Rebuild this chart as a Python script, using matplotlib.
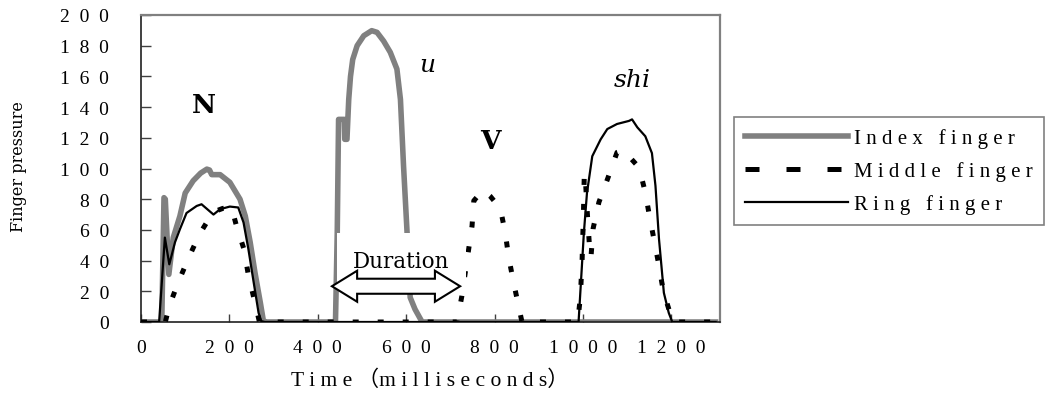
import matplotlib
matplotlib.use("Agg")
import matplotlib.pyplot as plt
from matplotlib.lines import Line2D
from matplotlib.patches import Polygon

plt.rcParams['font.family'] = ['Liberation Serif', 'Noto Sans CJK JP', 'DejaVu Sans']

# ---------------- data (time in ms, finger pressure) ----------------
index_t = [0, 47, 52, 55, 63, 73, 88, 100, 118, 135, 149, 155, 160, 179, 201, 224, 236, 247, 258, 270,
           277, 285, 440, 444, 447, 460, 461, 466, 470, 474, 479, 489, 504, 522, 534, 549, 564, 579, 587, 594, 602,
           609, 620, 636, 1300]
index_v = [0, 0, 81, 80, 31, 55, 69, 84, 92, 97, 99.6, 99, 96, 96, 91, 80, 69, 52, 32, 12.6,
           0.6, 0, 0, 58, 132, 132, 119, 119, 145, 160, 171, 180, 186.5, 189.8, 188.7, 183, 175.7, 164.8, 145, 101.7, 58.3,
           16, 8.3, 0, 0]

middle_t = [0, 55, 64, 84, 107, 132, 163, 185, 205, 216, 233, 243, 256, 268, 715, 726, 749, 753, 774, 790,
            813, 824, 832, 843, 855, 862, 988, 994, 998, 1001, 1003, 1006, 1010, 1015, 1018, 1023, 1036, 1056,
            1077, 1092, 1110, 1127, 1141, 1151, 1162, 1172, 1182, 1198, 1205, 1300]
middle_v = [0, 0, 10.4, 25.7, 41.3, 57, 71.6, 74, 74.5, 62.6, 47.4, 30.4, 14.8, 0, 0, 17, 62.6, 79, 86, 82,
            74, 58.3, 42, 25.7, 9.4, 0, 0, 16, 40, 70, 97, 90, 70, 48, 42, 61, 78, 93.5,
            110.5, 112, 106, 100.6, 84.4, 68, 51.8, 36.5, 19.6, 5, 0, 0]

ring_t = [0, 41, 54, 64, 77, 88, 103, 126, 137, 164, 179, 201, 220, 232, 243, 255, 266, 272, 280,
          990, 1002, 1009, 1021, 1040, 1055, 1077, 1104, 1111, 1123, 1141, 1156, 1164, 1172, 1183, 1194, 1202, 1300]
ring_v = [0, 0, 55, 37.6, 52, 60.4, 71, 75.6, 76.7, 70, 73.5, 75.2, 74.6, 64.8, 47.4, 25.7, 6, 0.6, 0,
          0, 58, 84, 108, 119, 125.7, 129, 131, 132, 126.8, 121, 110, 88.7, 54, 19, 6, 0, 0]

series_names = ["Index finger", "Middle finger", "Ring finger"]
x_ticks = [0, 200, 400, 600, 800, 1000, 1200]
y_ticks = [0, 20, 40, 60, 80, 100, 120, 140, 160, 180, 200]

# syllable labels: (text, x, y)
syllables = [("N", 143, 142), ("u", 649, 168), ("V", 790, 118), ("shi", 1111, 158)]
duration_label = ("Duration", 589, 40)
arrow_x = (432, 722)
arrow_y = 23.3

GRAY = "#808080"

def spaced(s, sep="  "):
    return sep.join(list(s))

fig = plt.figure(figsize=(10.5, 4.02), dpi=100)
ax = fig.add_axes([141/1050, 1-323/402, 579/1050, 307/402])

l_idx, = ax.plot(index_t, index_v, color=GRAY, lw=4.0, solid_joinstyle='round', zorder=2)
l_ring, = ax.plot(ring_t, ring_v, color="black", lw=1.6, zorder=3)
l_mid, = ax.plot(middle_t, middle_v, color="black", lw=3.6, dashes=(1.2, 3.8),
                 dash_capstyle='butt', zorder=4)

ax.set_xlim(0, 1310)
ax.set_ylim(0, 200)
ax.set_xticks(x_ticks)
ax.set_xticklabels([spaced(str(v)) for v in x_ticks])
ax.set_yticks(y_ticks)
ax.set_yticklabels([spaced(str(v)) for v in y_ticks])
ax.tick_params(axis='y', direction='in', length=7, width=1, color="#404040", pad=23, labelsize=14)
ax.tick_params(axis='x', direction='in', length=5.5, width=1, color="#404040", pad=12, labelsize=14)

for side in ("top", "right"):
    ax.spines[side].set_color(GRAY)
    ax.spines[side].set_linewidth(1.6)
for side in ("left", "bottom"):
    ax.spines[side].set_color("#202020")
    ax.spines[side].set_linewidth(1.2)

# syllable annotations
for txt, x, y in syllables:
    if txt in ("N", "V"):
        ax.text(x, y, txt, ha='center', va='center', family='DejaVu Serif', fontsize=19,
                fontweight='bold', zorder=6)
    else:
        ax.text(x, y, txt, ha='center', va='center', family='DejaVu Serif', fontsize=18,
                style='italic', zorder=6)

# duration label (white box hides lines beneath)
ax.text(duration_label[1], duration_label[2], duration_label[0], ha='center', va='center',
        family='DejaVu Serif', fontsize=15.5, zorder=6,
        bbox=dict(boxstyle='square,pad=0.75', fc='white', ec='none'))

# hollow double arrow
x0, x1 = arrow_x
hl, hh, sh = 57, 10.1, 4.9
poly = [(x0, arrow_y), (x0 + hl, arrow_y + hh), (x0 + hl, arrow_y + sh), (x1 - hl, arrow_y + sh),
        (x1 - hl, arrow_y + hh), (x1, arrow_y), (x1 - hl, arrow_y - hh), (x1 - hl, arrow_y - sh),
        (x0 + hl, arrow_y - sh), (x0 + hl, arrow_y - hh)]
ax.add_patch(Polygon(poly, closed=True, fc='white', ec='black', lw=1.5, zorder=7))

# axis titles
fig.text(19/1050, 1-167/402, "Finger pressure", rotation=90, ha='center', va='center',
         family='DejaVu Serif', fontsize=11.5)
fig.text(430/1050, 1-381/402, "T i m e （m i l l i s e c o n d s）", ha='center', va='center',
         fontsize=15.5)

# legend
handles = [Line2D([], [], color=GRAY, lw=4.0),
           Line2D([], [], color="black", lw=3.6, dashes=(2.8, 5.4), dash_capstyle='butt'),
           Line2D([], [], color="black", lw=1.6)]
labels = ["   ".join(spaced(w, " ") for w in n.split(" ")) for n in series_names]
leg = fig.legend(handles, labels, loc='upper left', bbox_to_anchor=(734/1050, 1-118/402),
                 frameon=True, fancybox=False, edgecolor=GRAY, framealpha=1,
                 fontsize=15, handlelength=4.9, handletextpad=0.3, labelspacing=0.62,
                 borderpad=0.55, borderaxespad=0)
leg.get_frame().set_linewidth(1.2)

fig.savefig("out.png", dpi=100)
